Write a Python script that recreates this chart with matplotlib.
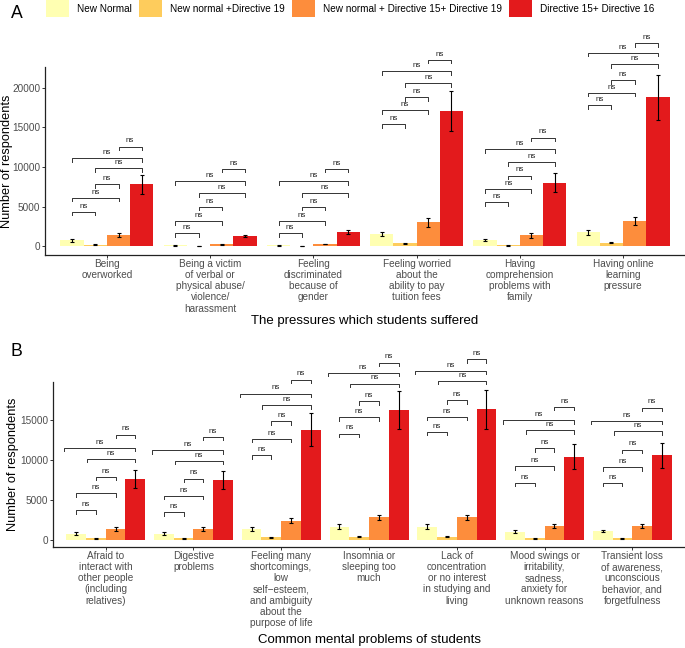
import numpy as np
import matplotlib
matplotlib.use("Agg")
import matplotlib.pyplot as plt
from matplotlib.patches import Patch

plt.rcParams['font.family'] = ['Liberation Sans', 'DejaVu Sans']

W, H = 685, 648

# legend
series = ["New Normal", "New normal +Directive 19",
          "New normal + Directive 15+ Directive 19", "Directive 15+ Directive 16"]
colors = ["#FFFFB2", "#FECC5C", "#FD8D3C", "#E31A1C"]

# panel A - pressures
labels_a = ["Being\noverworked",
            "Being a victim\nof verbal or\nphysical abuse/\nviolence/\nharassment",
            "Feeling\ndiscriminated\nbecause of\ngender",
            "Feeling worried\nabout the\nability to pay\ntuition fees",
            "Having\ncomprehension\nproblems with\nfamily",
            "Having online\nlearning\npressure"]
new_normal_a = [720, 100, 100, 1560, 760, 1770]
nn_d19_a = [170, 30, 20, 340, 100, 420]
nn_d15_d19_a = [1390, 250, 270, 3000, 1350, 3200]
d15_d16_a = [7800, 1270, 1730, 17050, 8010, 18820]
err_new_normal_a = [150, 30, 30, 250, 120, 320]
err_nn_d19_a = [40, 10, 10, 60, 30, 80]
err_nn_d15_d19_a = [250, 50, 60, 530, 270, 530]
err_d15_d16_a = [1200, 170, 250, 2550, 1200, 2850]
# bracket heights: pairs 1-2, 1-3, 2-3, 2-4, 1-4, 3-4
brackets_a = [[4340, 6110, 7800, 9870, 11100, 12570],
              [1600, 3160, 4980, 6670, 8230, 9750],
              [1600, 3160, 4980, 6670, 8230, 9750],
              [15400, 17130, 18790, 20590, 22070, 23540],
              [5530, 7180, 8900, 10600, 12240, 13710],
              [17780, 19370, 20970, 22960, 24420, 25610]]

# panel B - mental problems
labels_b = ["Afraid to\ninteract with\nother people\n(including\nrelatives)",
            "Digestive\nproblems",
            "Feeling many\nshortcomings,\nlow\nself\u2212esteem,\nand ambiguity\nabout the\npurpose of life",
            "Insomnia or\nsleeping too\nmuch",
            "Lack of\nconcentration\nor no interest\nin studying and\nliving",
            "Mood swings or\nirritability,\nsadness,\nanxiety for\nunknown reasons",
            "Transient loss\nof awareness,\nunconscious\nbehavior, and\nforgetfulness"]
new_normal_b = [750, 750, 1380, 1590, 1590, 1000, 1040]
nn_d19_b = [160, 150, 290, 330, 330, 160, 150]
nn_d15_d19_b = [1300, 1300, 2390, 2770, 2770, 1670, 1760]
d15_d16_b = [7630, 7460, 13830, 16260, 16390, 10390, 10570]
err_new_normal_b = [150, 150, 250, 300, 300, 150, 150]
err_nn_d19_b = [40, 40, 60, 60, 60, 40, 40]
err_nn_d15_d19_b = [250, 250, 300, 350, 350, 250, 250]
err_d15_d16_b = [1170, 1150, 2100, 2420, 2470, 1570, 1610]
brackets_b = [[3690, 5790, 7880, 10140, 11530, 13200],
              [3470, 5490, 7670, 9890, 11230, 12910],
              [10600, 12660, 14880, 16890, 18360, 20120],
              [13330, 15350, 17400, 19620, 20960, 22260],
              [13540, 15420, 17520, 19950, 21210, 22640],
              [7120, 9220, 11450, 13750, 15010, 16680],
              [7120, 9130, 11320, 13620, 14920, 16600]]

pairs = [(0, 1), (0, 2), (1, 2), (1, 3), (0, 3), (2, 3)]
bw = 0.225
grey = "#4D4D4D"


def px_rect(x0, y0, x1, y1):
    return [x0 / W, 1 - y1 / H, (x1 - x0) / W, (y1 - y0) / H]


def draw_panel(ax, labels, vals, errs, brackets, ylim, left_shift):
    n = len(labels)
    x = np.arange(1, n + 1)
    for i in range(4):
        pos = x + (i - 1.5) * bw
        ax.bar(pos, vals[i], width=bw, color=colors[i], edgecolor="none", zorder=2)
        ax.errorbar(pos, vals[i], yerr=errs[i], fmt="none", ecolor="black",
                    elinewidth=0.8, capsize=1.4, capthick=0.8, zorder=3)
    tip = 450
    for g in range(n):
        for k, (a, b) in enumerate(pairs):
            xa = x[g] + (a - 1.5) * bw + left_shift[k] * bw
            xb = x[g] + (b - 1.5) * bw
            y = brackets[g][k]
            ax.plot([xa, xa, xb, xb], [y - tip, y, y, y - tip], color="#333333",
                    lw=0.7, clip_on=False, zorder=4)
            ax.annotate("ns", xy=((xa + xb) / 2, y), xytext=(0, 3.0),
                        textcoords="offset points", ha="center", va="baseline",
                        fontsize=5.8, color="#222222", annotation_clip=False)
    ax.set_xlim(0.4, n + 0.6)
    ax.set_ylim(*ylim)
    ax.set_xticks(x)
    ax.set_xticklabels(labels, fontsize=7.2, color=grey, linespacing=1.15)
    ax.tick_params(axis="x", length=2.2, pad=0.6, color="#333333", width=0.7)
    ax.tick_params(axis="y", length=2.5, pad=1, color="#333333", width=0.7,
                   labelsize=7.2, labelcolor=grey)
    for s in ["top", "right"]:
        ax.spines[s].set_visible(False)
    for s in ["left", "bottom"]:
        ax.spines[s].set_color("#222222")
        ax.spines[s].set_linewidth(0.9)


fig = plt.figure(figsize=(W / 100, H / 100), dpi=100)

ax_a = fig.add_axes(px_rect(45, 67, 685, 255))
draw_panel(ax_a, labels_a,
           [new_normal_a, nn_d19_a, nn_d15_d19_a, d15_d16_a],
           [err_new_normal_a, err_nn_d19_a, err_nn_d15_d19_a, err_d15_d16_a],
           brackets_a, (-1120, 22620), [0, 0, 0, 0, 0, 0])
ax_a.set_yticks([0, 5000, 10000, 15000, 20000])

ax_b = fig.add_axes(px_rect(53, 382, 685, 547))
draw_panel(ax_b, labels_b,
           [new_normal_b, nn_d19_b, nn_d15_d19_b, d15_d16_b],
           [err_new_normal_b, err_nn_d19_b, err_nn_d15_d19_b, err_d15_d16_b],
           brackets_b, (-940, 19810), [0, 0, 0, -0.45, -0.6, 0])
ax_b.set_yticks([0, 5000, 10000, 15000])

# axis titles
fig.text(7 / W, 1 - 161 / H, "Number of respondents", rotation=90, ha="center",
         va="center", fontsize=9.2)
fig.text(13 / W, 1 - 464 / H, "Number of respondents", rotation=90, ha="center",
         va="center", fontsize=9.2)
fig.text(365 / W, 1 - 321 / H, "The pressures which students suffered",
         ha="center", va="center", fontsize=9.5)
fig.text(369 / W, 1 - 640 / H, "Common mental problems of students",
         ha="center", va="center", fontsize=9.5)

# panel tags
fig.text(11 / W, 1 - 13 / H, "A", ha="left", va="center", fontsize=12.7)
fig.text(11 / W, 1 - 351 / H, "B", ha="left", va="center", fontsize=12.7)

handles = [Patch(facecolor=c, edgecolor="none") for c in colors]
fig.legend(handles, series, loc="upper left", bbox_to_anchor=(46 / W, 1.0),
           ncol=4, frameon=False, fontsize=7.2, borderpad=0, borderaxespad=0,
           handlelength=2.3, handleheight=2.2, handletextpad=0.8,
           columnspacing=0.7)

fig.savefig("out.png", dpi=100)
